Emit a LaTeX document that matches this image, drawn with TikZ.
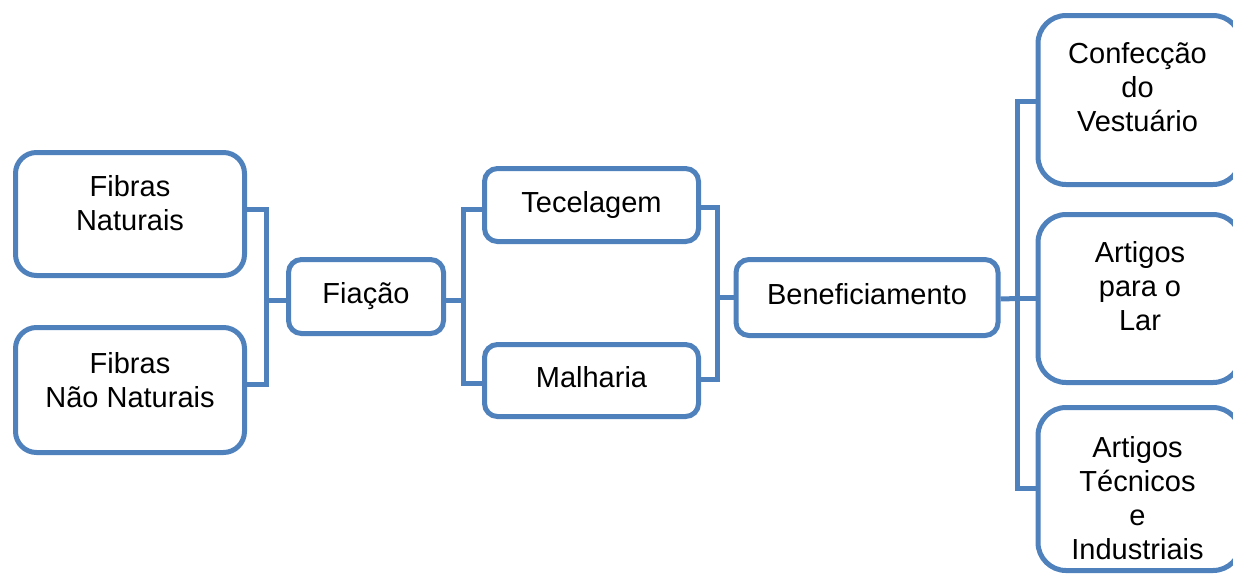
\documentclass[tikz,border=0pt]{standalone}
\usepackage{fontspec}
\setmainfont{Liberation Sans}
\definecolor{sablue}{HTML}{4F81BD}
\begin{document}
\begin{tikzpicture}[x=1pt,y=-1pt,
  sbox/.style={draw=sablue, line width=5pt, rectangle, fill=white, inner sep=0pt,
    font=\fontsize{29}{34}\selectfont, text height=21pt, text depth=7pt},
  txt/.style={inner sep=0pt, align=center, anchor=north, font=\fontsize{29}{34}\selectfont},
  conn/.style={draw=sablue, line width=5pt, line join=miter}]
\useasboundingbox (0,0) rectangle (1233,574);
\clip (0,0) rectangle (1233,574);
% connector junctions
\coordinate (ja) at (266,300);
\coordinate (jb) at (463,300);
\coordinate (jc) at (717.5,297.5);
\coordinate (jd) at (1017.5,298.5);
% boxes
\node[sbox, minimum width=229pt, minimum height=123pt, rounded corners=21pt] (fn) at (130,214) {};
\node[sbox, minimum width=229pt, minimum height=125pt, rounded corners=21pt] (fnn) at (130,390) {};
\node[sbox, minimum width=155pt, minimum height=74pt, rounded corners=13pt] (fia) at (366,296.5) {Fiação};
\node[sbox, minimum width=214pt, minimum height=73pt, rounded corners=13pt] (tec) at (591.5,205) {Tecelagem};
\node[sbox, minimum width=214pt, minimum height=72pt, rounded corners=13pt] (mal) at (591.5,380.5) {Malharia};
\node[sbox, minimum width=262pt, minimum height=76pt, rounded corners=13pt] (ben) at (867,297.5) {Beneficiamento};
\node[sbox, minimum width=203pt, minimum height=169pt, rounded corners=28pt] (cv) at (1139.5,100) {};
\node[sbox, minimum width=203pt, minimum height=168pt, rounded corners=28pt] (al) at (1139.5,298.5) {};
\node[sbox, minimum width=203pt, minimum height=163pt, rounded corners=28pt] (at) at (1139.5,489) {};
% texts
\node[txt] (fnT) at (130,175.5) {Fibras\\Naturais};
\node[txt] (fnnT) at (130,352.2) {Fibras\\Não Naturais};
\node[txt] (cvT) at (1137.5,42.5) {Confecção\\do\\Vestuário};
\node[txt] (alT) at (1140,241.3) {Artigos\\para o\\Lar};
\node[txt] (atT) at (1137.5,436.3) {Artigos\\Técnicos\\e\\Industriais};
% connector lines
\draw[conn] ([yshift=4.5pt]fn.east) -| (ja) |- ([yshift=5.5pt]fnn.east);
\draw[conn] (ja) -- (ja -| fia.west);
\draw[conn] (jb -| fia.east) -- (jb);
\draw[conn] ([yshift=-4pt]tec.west) -| (jb) |- ([yshift=-2.5pt]mal.west);
\draw[conn] ([yshift=-2.5pt]tec.east) -| (jc) |- ([yshift=1.5pt]mal.east);
\draw[conn] (jc) -- (jc -| ben.west);
\draw[conn] ([yshift=-1.5pt]ben.east) -- (jd);
\draw[conn] ([yshift=-1.5pt]cv.west) -| (jd) |- ([yshift=0.5pt]at.west);
\draw[conn] (jd) -- (jd -| al.west);
\end{tikzpicture}
\end{document}
